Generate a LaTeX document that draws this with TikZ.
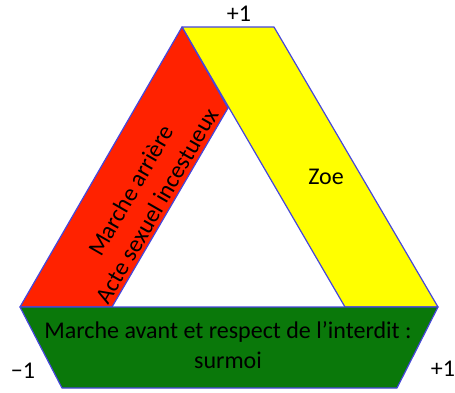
\documentclass[tikz,border=0pt]{standalone}
\usepackage{fontspec}
\setmainfont{Carlito}
\usetikzlibrary{positioning}

\definecolor{bandred}{RGB}{255,34,0}
\definecolor{bandyellow}{RGB}{255,255,0}
\definecolor{bandgreen}{RGB}{10,120,10}
\definecolor{edgeblue}{RGB}{70,70,220}

\tikzset{
  band/.style={draw=edgeblue, line width=1.2pt, line join=round},
  bandtext/.style={font=\fontsize{24}{30}\selectfont, align=center, inner sep=0pt},
  signlabel/.style={font=\fontsize{24}{29}\selectfont, inner sep=0pt}
}

\begin{document}
\begin{tikzpicture}[x=1pt, y=-1pt]

\useasboundingbox (0,0) rectangle (455,392);

% Corner points
\coordinate (top) at (182,27);
\coordinate (topr) at (274,27);
\coordinate (inner) at (228,108);
\coordinate (left) at (20,307);
\coordinate (redin) at (112,307);
\coordinate (yelin) at (345,307);
\coordinate (right) at (438,307);
\coordinate (botl) at (62,388);
\coordinate (botr) at (397,388);

% Bands
\filldraw[band, fill=bandyellow] (top) -- (topr) -- (right) -- (yelin) -- cycle;
\filldraw[band, fill=bandred] (top) -- (inner) -- (redin) -- (left) -- cycle;
\filldraw[band, fill=bandgreen] (left) -- (right) -- (botr) -- (botl) -- cycle;

% Band labels
\node[bandtext, rotate=60] (back) at (144,198) {Marche arrière\\Acte sexuel incestueux};
\node[bandtext] (zoe) at (326,177) {Zoe};
\node[bandtext] (forward) at (228,345) {Marche avant et respect de l’interdit :\\surmoi};

% Signs
\node[signlabel] (plustop) at (239,14) {+1};
\node[signlabel] (minusleft) at (23,371) {−1};
\node[signlabel] (plusright) at (443,369) {+1};

\end{tikzpicture}
\end{document}
